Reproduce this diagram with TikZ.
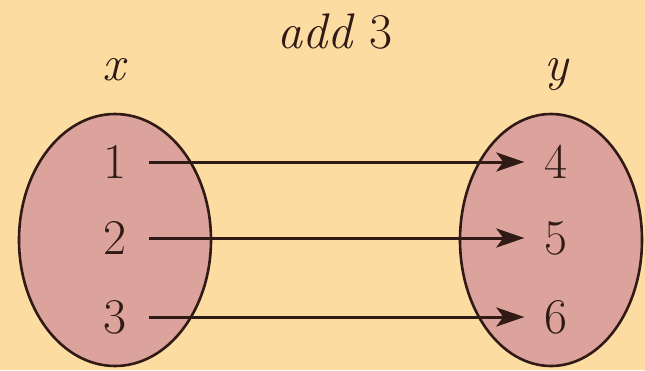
\documentclass[tikz,border=0pt]{standalone}
\usetikzlibrary{arrows.meta}
\definecolor{bgc}{RGB}{253,220,162}
\definecolor{setc}{RGB}{220,162,156}
\definecolor{inkc}{RGB}{48,26,22}
\tikzset{
  setshape/.style={fill=setc, draw=inkc, line width=2.6pt},
  elem/.style={inner sep=0pt, text=inkc, font=\fontsize{50}{52}\selectfont},
  lab/.style={inner sep=0pt, anchor=base, text=inkc, font=\fontsize{50}{52}\selectfont},
  maparrow/.style={draw=inkc, line width=3pt, -{Stealth[length=28pt,width=19pt,inset=7pt]}}
}
\begin{document}
\begin{tikzpicture}[x=1pt,y=-1pt]
\fill[bgc] (0,0) rectangle (645,370);
\useasboundingbox (0,0) rectangle (645,370);
\draw[setshape] (115,240) ellipse [x radius=96, y radius=126];
\draw[setshape] (551,240) ellipse [x radius=91, y radius=126];
\node[lab] (title) at (335,48) {\textit{add} 3};
\node[lab] (xl) at (115,80) {\textit{x}};
\node[lab] (yl) at (557,80) {\textit{y}};
\node[elem] (a1) at (115,162) {1};
\node[elem] (a2) at (115,238) {2};
\node[elem] (a3) at (115,317) {3};
\node[elem] (b4) at (556,162) {4};
\node[elem] (b5) at (556,238) {5};
\node[elem] (b6) at (556,317) {6};
\draw[maparrow] ([xshift=22pt]a1.east) -- ([xshift=-20pt]b4.west);
\draw[maparrow] ([xshift=22pt]a2.east) -- ([xshift=-20pt]b5.west);
\draw[maparrow] ([xshift=22pt]a3.east) -- ([xshift=-20pt]b6.west);
\end{tikzpicture}
\end{document}
